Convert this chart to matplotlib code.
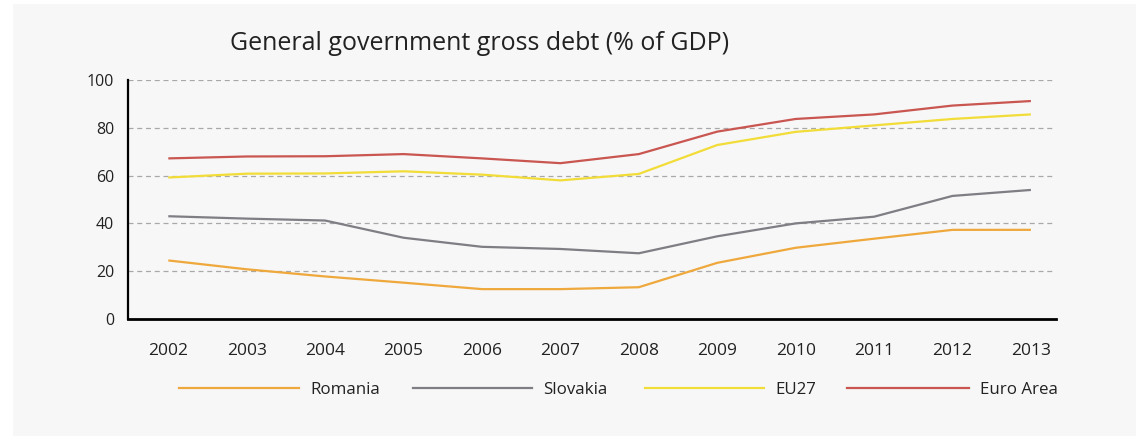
"""
General government gross debt (% of GDP): Romania, Slovakia, EU27, Euro Area.
"""
import matplotlib

matplotlib.use("Agg")
import matplotlib.pyplot as plt
from matplotlib.lines import Line2D
from matplotlib.patches import Rectangle

years = [2002, 2003, 2004, 2005, 2006, 2007, 2008, 2009, 2010, 2011, 2012, 2013]
romania = [24.5, 20.8, 17.8, 15.2, 12.5, 12.5, 13.3, 23.5, 29.8, 33.6, 37.3, 37.3]
slovakia = [43.0, 42.0, 41.2, 34.0, 30.2, 29.3, 27.5, 34.6, 40.0, 42.8, 51.5, 54.0]
eu27 = [59.2, 60.8, 60.9, 61.8, 60.4, 58.0, 60.7, 72.8, 78.3, 81.0, 83.7, 85.6]
euro_area = [67.2, 68.0, 68.1, 69.0, 67.2, 65.2, 69.0, 78.4, 83.7, 85.6, 89.3, 91.2]

series_names = ["Romania", "Slovakia", "EU27", "Euro Area"]
series_values = [romania, slovakia, eu27, euro_area]
series_colors = ["#efa83c", "#7e7e84", "#f2dc38", "#c95650"]

y_ticks = [0, 20, 40, 60, 80, 100]

plt.rcParams["font.family"] = ["Open Sans", "DejaVu Sans"]
TEXT = "#222222"

fig = plt.figure(figsize=(11.38, 4.4), dpi=100)
fig.patch.set_facecolor("white")

# light grey card behind the chart
fig.add_artist(Rectangle((13 / 1138, 4 / 440), 1123 / 1138, 432 / 440,
                         transform=fig.transFigure, facecolor="#f7f7f7",
                         edgecolor="none", zorder=0))

ax = fig.add_axes([128 / 1138, 121 / 440, 928 / 1138, 239 / 440])
ax.set_facecolor("none")

for name, vals, col in zip(series_names, series_values, series_colors):
    ax.plot(years, vals, color=col, lw=1.6, solid_capstyle="butt", zorder=3)

ax.set_xlim(2001.486, 2013.32)
ax.set_ylim(0, 100)
ax.set_xticks(years)
ax.set_xticklabels([str(y) for y in years])
ax.set_yticks(y_ticks)
ax.set_yticklabels([str(v) for v in y_ticks])

for v in y_ticks[1:]:
    ax.axhline(v, color="#a8a8a8", lw=0.9, dashes=(4, 3), zorder=1)

ax.tick_params(axis="both", length=0, colors=TEXT)
ax.tick_params(axis="x", labelsize=12.5, pad=17)
ax.tick_params(axis="y", labelsize=11.5, pad=10)

for side in ["top", "right"]:
    ax.spines[side].set_visible(False)
ax.spines["left"].set_linewidth(1.6)
ax.spines["bottom"].set_linewidth(2.0)
ax.spines["left"].set_color("black")
ax.spines["bottom"].set_color("black")

fig.text(480 / 1138, 1 - 43 / 440, "General government gross debt (% of GDP)",
         ha="center", va="center", fontsize=18, color=TEXT)

# legend, laid out by hand to match the wide line samples
leg_line_x = [(179, 299), (413, 532), (645, 764), (847, 969)]
leg_y = 1 - 388 / 440
for (x0, x1), name, col in zip(leg_line_x, series_names, series_colors):
    fig.add_artist(Line2D([x0 / 1138, x1 / 1138], [leg_y, leg_y],
                          transform=fig.transFigure, color=col, lw=1.6))
    fig.text((x1 + 11) / 1138, leg_y - 2 / 440, name, ha="left", va="center",
             fontsize=12.2, color=TEXT)

fig.savefig("out.png", dpi=100, facecolor=fig.get_facecolor())
